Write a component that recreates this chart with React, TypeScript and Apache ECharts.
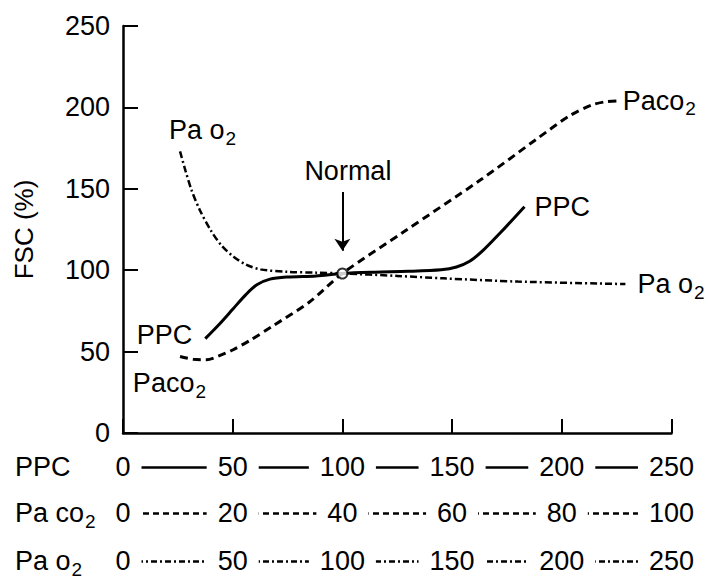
import React, { useEffect, useRef } from 'react';
import * as echarts from 'echarts';

// FSC (%) axis ticks
const yTicks = [0, 50, 100, 150, 200, 250];
// scales printed under the x axis
const ppcScale = [0, 50, 100, 150, 200, 250];
const paco2Scale = [0, 20, 40, 60, 80, 100];
const pao2Scale = [0, 50, 100, 150, 200, 250];

// curves: [scale value, FSC %]
const ppcCurve: [number, number][] = [
  [37.5, 58], [44, 67], [50, 76], [56, 85], [61, 91], [67, 94.5], [75, 95.8], [88, 96.5],
  [100, 98], [115, 98.8], [130, 99.3], [145, 100.3], [152, 102], [158, 105.5],
  [164, 112], [172, 123], [183, 139],
];
const paco2Curve: [number, number][] = [
  [10.4, 47], [12.8, 45.3], [15.2, 45], [17.6, 47.5], [20, 51], [23.2, 57], [27.2, 65.5],
  [34, 80.5], [40, 98], [51.2, 123.6], [65.2, 155.5], [75.6, 181], [81.5, 195],
  [85.5, 201.5], [88, 203.5], [90, 204],
];
const pao2Curve: [number, number][] = [
  [26, 173], [28.5, 161], [31.3, 149], [35, 137], [40, 124.5], [45, 115], [50.4, 108.3],
  [56, 103.5], [62.6, 100.5], [75, 99], [88, 98.5], [100, 98], [125, 96.5],
  [146, 95], [180, 93], [229, 91.5],
];
const normalPoint: [number, number][] = [[100, 98]];
const normalArrow: [number, number][] = [[100, 148], [100, 112]];
const normalLabelAt: [number, number] = [102.5, 161];
const ppcStartLabelAt: [number, number] = [6.3, 60.2];
const paco2StartLabelAt: [number, number] = [1.8, 30.7];
const pao2StartLabelAt: [number, number] = [21, 186];

const FONT = "'Liberation Sans', Arial, sans-serif";
const FS = 27;
const BLACK = '#000';

const rich = {
  a: { fontSize: FS, fontFamily: FONT, color: BLACK },
  b: { fontSize: 19, fontFamily: FONT, color: BLACK, padding: [16, 0, 0, 1] },
};

function rowAxis(scale: number[], offset: number, type: any, name: string) {
  return {
    type: 'value',
    position: 'bottom',
    offset,
    min: scale[0],
    max: scale[scale.length - 1],
    interval: scale[1] - scale[0],
    axisLine: { show: true, onZero: false, lineStyle: { color: BLACK, width: 2.5, type, cap: 'butt' } },
    axisTick: { show: false },
    splitLine: { show: false },
    axisLabel: {
      show: true,
      margin: 0,
      verticalAlign: 'middle',
      color: BLACK,
      fontSize: FS,
      fontFamily: FONT,
      backgroundColor: '#fff',
      padding: [3, 11, 3, 11],
    },
    name,
    nameLocation: 'start',
    nameGap: 108,
    nameTextStyle: { align: 'left', verticalAlign: 'middle', color: BLACK, fontSize: FS, fontFamily: FONT, rich },
  };
}

function startLabel(coord: [number, number], text: string) {
  return {
    symbol: 'circle',
    symbolSize: 0,
    silent: true,
    itemStyle: { color: 'transparent' },
    label: { show: true, position: 'right', distance: 0, formatter: text, color: BLACK, fontSize: FS, fontFamily: FONT, rich },
    data: [{ coord, value: 0 }],
  };
}

export default function App() {
  const ref = useRef<HTMLDivElement>(null);
  useEffect(() => {
    if (!ref.current) return;
    const chart = echarts.init(ref.current, null, { renderer: 'svg' });
    chart.setOption({
      animation: false,
      backgroundColor: '#fff',
      grid: { left: 123, right: 26, top: 26, bottom: 147, containLabel: false },
      xAxis: [
        {
          type: 'value',
          min: ppcScale[0],
          max: ppcScale[ppcScale.length - 1],
          interval: ppcScale[1] - ppcScale[0],
          axisLine: { show: true, onZero: false, lineStyle: { color: BLACK, width: 2.5 } },
          axisTick: { show: true, inside: true, length: 14, lineStyle: { color: BLACK, width: 2 } },
          axisLabel: { show: false },
          splitLine: { show: false },
        },
        rowAxis(ppcScale, 34, 'solid', 'PPC'),
        rowAxis(paco2Scale, 80, [6, 4], '{a|Pa co}{b|2}'),
        rowAxis(pao2Scale, 128, [6, 3, 2, 3], '{a|Pa o}{b|2}'),
      ],
      yAxis: {
        type: 'value',
        min: yTicks[0],
        max: yTicks[yTicks.length - 1],
        interval: yTicks[1] - yTicks[0],
        axisLine: { show: true, onZero: false, lineStyle: { color: BLACK, width: 2.5 } },
        axisTick: { show: true, inside: true, length: 15, lineStyle: { color: BLACK, width: 2 } },
        axisLabel: { color: BLACK, fontSize: FS, fontFamily: FONT, margin: 13 },
        splitLine: { show: false },
        name: 'FSC (%)',
        nameLocation: 'middle',
        nameRotate: 90,
        nameGap: 86,
        nameTextStyle: { color: BLACK, fontSize: 26, fontFamily: FONT },
      },
      series: [
        {
          type: 'line',
          name: 'PPC',
          xAxisIndex: 0,
          data: ppcCurve,
          smooth: 0.3,
          symbol: 'none',
          lineStyle: { color: BLACK, width: 3 },
          endLabel: { show: true, formatter: 'PPC', distance: 10, color: BLACK, fontSize: FS, fontFamily: FONT },
          markPoint: startLabel(ppcStartLabelAt, 'PPC'),
          z: 3,
        },
        {
          type: 'line',
          name: 'Paco2',
          xAxisIndex: 2,
          data: paco2Curve,
          smooth: 0.3,
          symbol: 'none',
          lineStyle: { color: BLACK, width: 3, type: [8, 5] },
          endLabel: { show: true, formatter: '{a|Paco}{b|2}', distance: 6, rich },
          markPoint: startLabel(paco2StartLabelAt, '{a|Paco}{b|2}'),
          z: 2,
        },
        {
          type: 'line',
          name: 'Pao2',
          xAxisIndex: 3,
          data: pao2Curve,
          smooth: 0.3,
          symbol: 'none',
          lineStyle: { color: BLACK, width: 2.5, type: [7, 3, 2, 3] },
          endLabel: { show: true, formatter: '{a|Pa o}{b|2}', distance: 12, rich },
          markPoint: startLabel(pao2StartLabelAt, '{a|Pa o}{b|2}'),
          z: 2,
        },
        {
          type: 'scatter',
          name: 'Normal',
          xAxisIndex: 0,
          data: normalPoint,
          symbol: 'circle',
          symbolSize: 10,
          itemStyle: { color: '#fff', borderColor: BLACK, borderWidth: 2 },
          z: 10,
          markLine: {
            silent: true,
            symbol: ['none', 'arrow'],
            symbolSize: 12,
            itemStyle: { color: BLACK },
            lineStyle: { color: BLACK, width: 2, type: 'solid' },
            label: { show: false },
            data: [[{ coord: normalArrow[0] }, { coord: normalArrow[1] }]],
          },
          markPoint: {
            symbol: 'circle',
            symbolSize: 0,
            silent: true,
            itemStyle: { color: 'transparent' },
            label: { show: true, position: 'inside', formatter: 'Normal', color: BLACK, fontSize: FS, fontFamily: FONT },
            data: [{ coord: normalLabelAt, value: 0 }],
          },
        },
      ],
    });
    return () => chart.dispose();
  }, []);
  return <div ref={ref} style={{ width: 708, height: 580, position: 'absolute', left: 0, top: 0 }} />;
}
